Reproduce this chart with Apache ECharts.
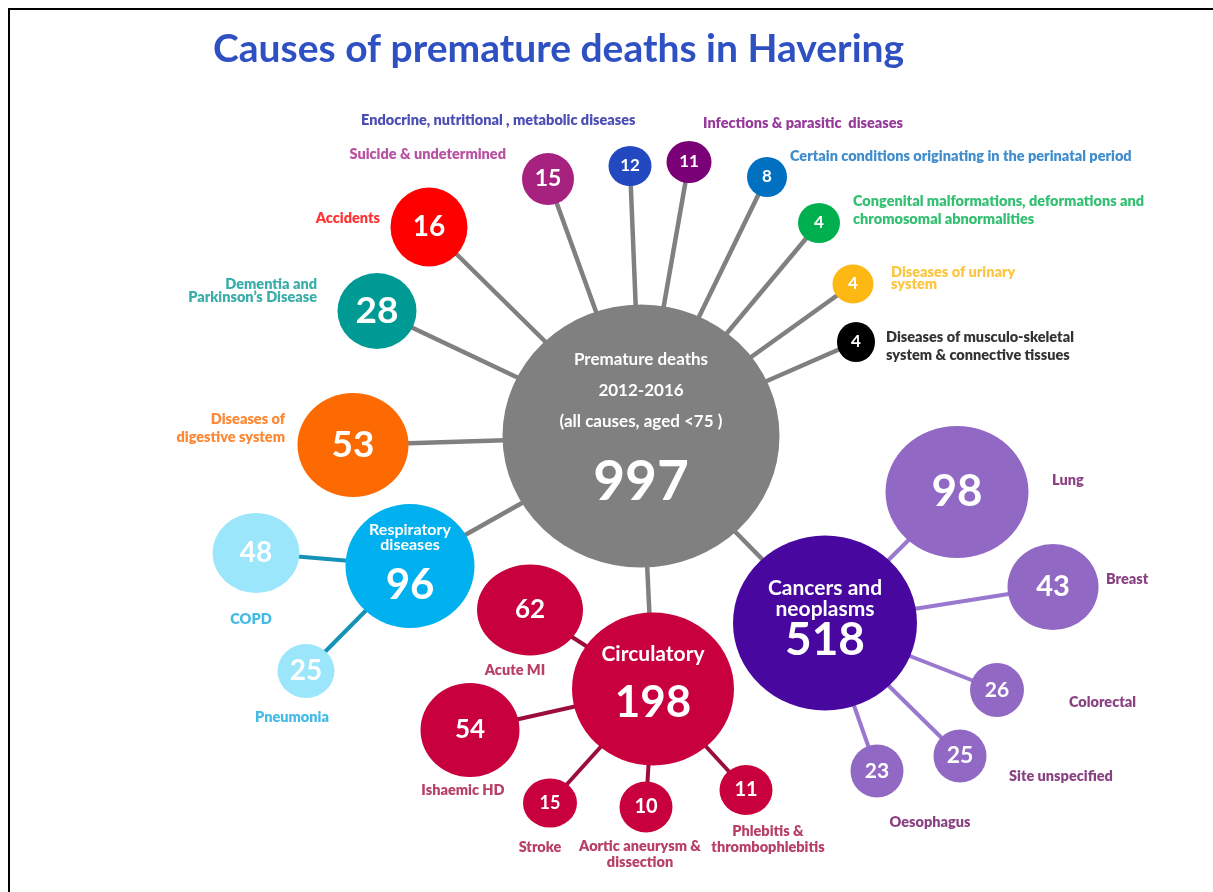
<!DOCTYPE html>
<html>
<head>
<meta charset="utf-8">
<title>Causes of premature deaths in Havering</title>
<script src="https://cdn.jsdelivr.net/npm/echarts@6/dist/echarts.min.js"></script>
<style>
  html, body { margin: 0; padding: 0; background: #fff; }
  #main { width: 1213px; height: 892px; }
</style>
</head>
<body>
<div id="main"></div>
<script>
// ---- data ----
const totalLabel = 'Premature deaths\n2012-2016\n(all causes, aged <75 )';
const totalDeaths = 997;

const causes = [
  'Cancers and\nneoplasms', 'Circulatory', 'Respiratory\ndiseases',
  'Diseases of\ndigestive system', 'Dementia and\nParkinson’s Disease', 'Accidents',
  'Suicide & undetermined', 'Endocrine, nutritional , metabolic diseases',
  'Infections & parasitic  diseases', 'Certain conditions originating in the perinatal period',
  'Congenital malformations, deformations and\nchromosomal abnormalities',
  'Diseases of urinary\nsystem', 'Diseases of musculo-skeletal\nsystem & connective tissues'
];
const causeDeaths = [518, 198, 96, 53, 28, 16, 15, 12, 11, 8, 4, 4, 4];

const cancerSites = ['Lung', 'Breast', 'Colorectal', 'Site unspecified', 'Oesophagus'];
const cancerDeaths = [98, 43, 26, 25, 23];

const circulatoryTypes = ['Acute MI', 'Ishaemic HD', 'Stroke', 'Aortic aneurysm &\ndissection', 'Phlebitis &\nthrombophlebitis'];
const circulatoryDeaths = [62, 54, 15, 10, 11];

const respiratoryTypes = ['COPD', 'Pneumonia'];
const respiratoryDeaths = [48, 25];

// ---- layout (page pixels) ----
const FONT = 'Lato, "Open Sans", sans-serif';
const TAG_SIZE = 14.5;
const totalBubble = { at: [641, 436], size: [277, 263], color: '#808080' };

// bubble centre, bubble size, number font size, colour
const causeBubbles = [
  { at: [825, 623], size: [184, 175], font: 46, color: '#48079f' },
  { at: [653, 689], size: [162, 153], font: 44, color: '#c8003e' },
  { at: [410, 566], size: [129, 124], font: 42, color: '#00b0ef' },
  { at: [353, 445], size: [111, 104], font: 37, color: '#fd6a02' },
  { at: [377, 311], size: [79, 76], font: 37, color: '#009a94' },
  { at: [429, 227], size: [77, 79], font: 28, color: '#ff0000' },
  { at: [548, 179], size: [52, 52], font: 23, color: '#a7217f' },
  { at: [630, 166], size: [43, 40], font: 17, color: '#2349c0' },
  { at: [689, 162], size: [45, 42], font: 17, color: '#7a0078' },
  { at: [767, 177], size: [40, 40], font: 17, color: '#0070c0' },
  { at: [819, 223], size: [42, 40], font: 17, color: '#00b04f' },
  { at: [853, 284], size: [41, 39], font: 17, color: '#fdb813' },
  { at: [856, 342], size: [38, 40], font: 17, color: '#000000' }
];
// outer label: x, y, align, colour, line height (null = label inside bubble)
const causeTags = [
  null, null, null,
  [285, 428, 'right', '#fd6a02', 18],
  [317, 291, 'right', '#0a9a94', 13],
  [380, 218, 'right', '#ff0000', 16],
  [506, 154, 'right', '#a8268a', 16],
  [361, 120, 'left', '#1e22a0', 16],
  [703, 123, 'left', '#7a0a80', 16],
  [790, 156, 'left', '#1070c0', 16],
  [853, 210, 'left', '#00b04f', 18],
  [891, 278, 'left', '#fdb813', 12],
  [886, 346, 'left', '#000000', 18]
];

const cancerBubbles = [
  { at: [957, 492], size: [143, 132], font: 44 },
  { at: [1053, 587], size: [91, 86], font: 29 },
  { at: [997, 690], size: [54, 54], font: 21 },
  { at: [960, 756], size: [53, 53], font: 23 },
  { at: [877, 771], size: [53, 53], font: 21 }
];
const cancerTags = [[1052, 480, 'left'], [1106, 579, 'left'], [1069, 702, 'left'], [1009, 776, 'left'], [930, 822, 'center']];

const circBubbles = [
  { at: [530, 610], size: [106, 91], font: 26 },
  { at: [470, 730], size: [99, 94], font: 26 },
  { at: [550, 803], size: [54, 49], font: 18 },
  { at: [646, 807], size: [53, 51], font: 20 },
  { at: [746, 790], size: [53, 50], font: 20 }
];
const circTags = [[515, 670, 'center'], [463, 790, 'center'], [540, 847, 'center'], [640, 854, 'center'], [768, 839, 'center']];

const respBubbles = [
  { at: [256, 553], size: [87, 80], font: 28 },
  { at: [306, 671], size: [57, 54], font: 28 }
];
const respTags = [[251, 619, 'center'], [292, 717, 'center']];

// ---- build nodes / links / outer labels ----
const nodes = [];
const links = [];
const tags = [];

function numLabel(value, font) {
  return {
    show: true, position: 'inside', color: '#fff', fontFamily: FONT, fontWeight: 'bold',
    fontSize: font, textBorderWidth: 0, formatter: String(value)
  };
}
function stackLabel(lines, value, tStyle, bigStyle, dy) {
  return {
    show: true, position: 'inside', color: '#fff', textBorderWidth: 0, offset: [0, dy],
    formatter: lines.split('\n').map(s => '{t|' + s + '}').join('\n') + '\n{big|' + value + '}',
    rich: {
      t: Object.assign({ color: '#fff', fontFamily: FONT, fontWeight: 'bold' }, tStyle),
      big: Object.assign({ color: '#fff', fontFamily: FONT, fontWeight: 'bold' }, bigStyle)
    }
  };
}
function addNode(id, bubble, color, label) {
  nodes.push({
    name: id, value: bubble.at, symbolSize: bubble.size,
    itemStyle: { color: color }, label: label
  });
}
function addTag(text, t, color, lh) {
  tags.push({
    value: [t[0], t[1]],
    label: {
      show: true, position: 'inside', align: t[2], verticalAlign: 'middle',
      color: color, fontFamily: FONT, fontWeight: 800, fontSize: TAG_SIZE,
      lineHeight: lh || 16, textBorderWidth: 0, formatter: text
    }
  });
}

addNode('total', totalBubble, totalBubble.color,
  stackLabel(totalLabel, totalDeaths, { fontSize: 17, lineHeight: 31 }, { fontSize: 55, lineHeight: 91 }, 0));

causes.forEach((name, i) => {
  const b = causeBubbles[i];
  let label;
  if (i === 0) {
    label = stackLabel(name, causeDeaths[i], { fontSize: 21, lineHeight: 21 }, { fontSize: b.font, lineHeight: 40 }, -4);
  } else if (i === 1) {
    label = stackLabel(name, causeDeaths[i], { fontSize: 21, lineHeight: 38 }, { fontSize: b.font, lineHeight: 60 }, -5);
  } else if (i === 2) {
    label = stackLabel(name, causeDeaths[i], { fontSize: 16, lineHeight: 15 }, { fontSize: b.font, lineHeight: 66 }, 4);
  } else {
    label = numLabel(causeDeaths[i], b.font);
    const t = causeTags[i];
    addTag(name, t, t[3], t[4]);
  }
  addNode('c' + i, b, b.color, label);
  links.push({ source: 'total', target: 'c' + i, lineStyle: { color: '#808080', width: 4.5 } });
});

function addChildren(parent, names, values, bubbles, tagPos, fill, lineColor, tagColor) {
  names.forEach((name, i) => {
    const id = parent + '_' + i;
    addNode(id, bubbles[i], fill, numLabel(values[i], bubbles[i].font));
    links.push({ source: parent, target: id, lineStyle: { color: lineColor, width: 4 } });
    addTag(name, tagPos[i], tagColor, 16);
  });
}
addChildren('c0', cancerSites, cancerDeaths, cancerBubbles, cancerTags, '#9169c4', '#9a78d0', '#6b1263');
addChildren('c1', circulatoryTypes, circulatoryDeaths, circBubbles, circTags, '#c8003e', '#9b0d3a', '#a6103f');
addChildren('c2', respiratoryTypes, respiratoryDeaths, respBubbles, respTags, '#9be6fb', '#1592b8', '#15a9e1');

const chart = echarts.init(document.getElementById('main'));
const option = {
  animation: false,
  backgroundColor: '#fff',
  title: {
    text: 'Causes of premature deaths in Havering',
    left: 213, top: 30, padding: 0,
    textStyle: { color: '#2e50c2', fontFamily: FONT, fontWeight: 'bold', fontSize: 39 }
  },
  graphic: [{
    type: 'rect', shape: { x: 9, y: 9, width: 1250, height: 950 },
    style: { fill: 'none', stroke: '#000', lineWidth: 2 }, silent: true
  }],
  grid: { left: 0, right: 0, top: 0, bottom: 0 },
  xAxis: { type: 'value', min: 0, max: 1213, show: false },
  yAxis: { type: 'value', min: 0, max: 892, inverse: true, show: false },
  series: [
    {
      type: 'graph', coordinateSystem: 'cartesian2d', layout: 'none',
      symbol: 'circle', data: nodes, links: links,
      lineStyle: { opacity: 1, curveness: 0 },
      emphasis: { disabled: true }
    },
    {
      type: 'scatter', data: tags, symbolSize: 1,
      itemStyle: { color: 'rgba(0,0,0,0)' },
      emphasis: { disabled: true }, z: 5
    }
  ]
};
chart.setOption(option);
</script>
</body>
</html>
